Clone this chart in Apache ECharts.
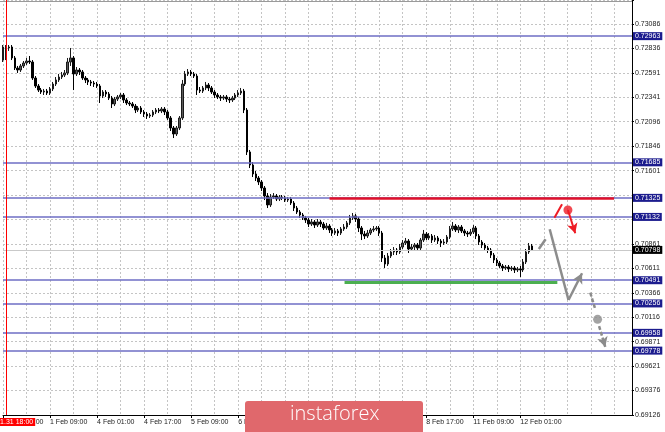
<!DOCTYPE html>
<html><head><meta charset="utf-8">
<script src="https://cdn.jsdelivr.net/npm/echarts@6/dist/echarts.min.js"></script>
<style>html,body{margin:0;padding:0;background:#fff}#c{width:665px;height:432px}</style>
</head><body><div id="c"></div>
<script>
// ---- data (prices in points, 1 point = 0.00001) ----
const POINT = 1e-5;
const openPts = [72721,
72742,72843,72853,72742,72640,72620,72661,72691,72711,72701,
72539,72458,72417,72397,72407,72387,72428,72478,72519,72549,
72569,72590,72701,72742,72580,72620,72600,72539,72519,72499,
72488,72478,72458,72357,72397,72377,72336,72276,72326,72347,
72367,72316,72286,72276,72255,72215,72235,72195,72174,72154,
72164,72195,72215,72205,72225,72195,72134,72033,71972,72033,
72134,72478,72580,72600,72580,72559,72417,72407,72438,72468,
72438,72397,72367,72347,72336,72347,72326,72316,72336,72367,
72387,72407,72215,71790,71658,71567,71526,71486,71425,71344,
71253,71334,71344,71314,71334,71324,71303,71314,71273,71222,
71182,71152,71121,71101,71060,71081,71050,71081,71060,71020,
71040,71000,70969,70990,70969,71010,71030,71071,71121,71142,
71111,71020,70959,70939,70969,71000,71010,71020,70969,70716,
70655,70736,70777,70797,70777,70827,70868,70888,70807,70827,
70848,70817,70898,70959,70919,70939,70898,70919,70888,70868,
70878,70929,71010,71040,71000,71030,70990,70969,70959,70979,
71020,70939,70878,70848,70817,70797,70746,70696,70665,70635,
70615,70625,70605,70615,70595,70605,70595,70676,70777,70838];
const closePts = [72853,
72843,72853,72742,72640,72620,72661,72691,72711,72701,72539,
72458,72417,72397,72407,72387,72428,72478,72519,72549,72569,
72590,72701,72742,72580,72620,72600,72539,72519,72499,72488,
72478,72458,72357,72397,72377,72336,72276,72326,72347,72367,
72316,72286,72276,72255,72215,72235,72195,72174,72154,72164,
72195,72215,72205,72225,72195,72134,72033,71972,72033,72134,
72478,72580,72600,72580,72559,72417,72407,72438,72468,72438,
72397,72367,72347,72336,72347,72326,72316,72336,72367,72387,
72407,72215,71790,71658,71567,71526,71486,71425,71344,71253,
71334,71344,71314,71334,71324,71303,71314,71273,71222,71182,
71152,71121,71101,71060,71081,71050,71081,71060,71020,71040,
71000,70969,70990,70969,71010,71030,71071,71121,71142,71111,
71020,70959,70939,70969,71000,71010,71020,70969,70716,70655,
70736,70777,70797,70777,70827,70868,70888,70807,70827,70848,
70817,70898,70959,70919,70939,70898,70919,70888,70868,70878,
70929,71010,71040,71000,71030,70990,70969,70959,70979,71020,
70939,70878,70848,70817,70797,70746,70696,70665,70635,70615,
70625,70605,70615,70595,70605,70595,70676,70777,70838,70798];
const lowPts = [72701,
72721,72813,72721,72620,72590,72600,72640,72671,72681,72519,
72438,72397,72377,72367,72367,72367,72407,72458,72499,72529,
72549,72569,72661,72417,72559,72569,72519,72488,72468,72458,
72448,72438,72286,72336,72347,72316,72235,72255,72306,72326,
72286,72265,72255,72235,72184,72195,72174,72144,72124,72134,
72144,72174,72184,72184,72164,72114,72002,71931,71952,72012,
72114,72458,72559,72559,72539,72367,72387,72387,72417,72407,
72377,72336,72326,72306,72316,72296,72286,72296,72316,72347,
72367,72184,71759,71627,71536,71496,71455,71395,71303,71222,
71233,71314,71293,71293,71303,71283,71283,71253,71192,71162,
71121,71101,71071,71030,71040,71020,71030,71030,71000,71000,
70969,70939,70949,70939,70949,70990,71010,71050,71101,71081,
70979,70898,70908,70919,70949,70979,70990,70939,70676,70615,
70635,70716,70746,70746,70757,70807,70848,70767,70787,70797,
70797,70797,70878,70898,70898,70868,70878,70858,70827,70848,
70858,70908,70990,70979,70969,70969,70939,70929,70939,70959,
70908,70848,70817,70787,70767,70716,70665,70635,70615,70584,
70595,70574,70584,70564,70574,70524,70574,70655,70757,70797];
const highPts = [72873,
72873,72873,72873,72762,72661,72681,72711,72742,72762,72721,
72559,72478,72438,72428,72428,72448,72499,72549,72580,72600,
72620,72742,72843,72762,72650,72640,72620,72559,72539,72519,
72509,72499,72478,72417,72417,72397,72357,72347,72367,72387,
72387,72336,72306,72296,72276,72255,72255,72215,72195,72184,
72215,72235,72235,72245,72245,72215,72154,72053,72053,72154,
72519,72610,72630,72620,72600,72580,72448,72458,72499,72488,
72458,72417,72387,72367,72367,72367,72347,72357,72387,72417,
72438,72428,72235,71810,71688,71597,71546,71506,71445,71374,
71364,71374,71364,71354,71354,71344,71334,71334,71293,71243,
71202,71172,71142,71121,71111,71101,71111,71101,71081,71071,
71060,71020,71020,71010,71030,71060,71091,71152,71172,71162,
71131,71040,70990,71000,71020,71040,71040,71040,70990,70746,
70767,70807,70827,70817,70858,70898,70919,70908,70858,70868,
70868,70919,71000,70979,70969,70959,70949,70939,70908,70908,
70949,71040,71081,71060,71050,71050,71010,70990,71010,71050,
71040,70959,70898,70868,70838,70817,70767,70716,70686,70655,
70645,70645,70635,70635,70625,70635,70706,70807,70868,70858];

const yTickLabels = ['0.69126','0.69376','0.69621','0.69871','0.70116','0.70366','0.70611','0.70861',
  '0.71106','0.71356','0.71601','0.71846','0.72096','0.72341','0.72591','0.72836','0.73086'];
const PRICE_MIN = 0.69126, PRICE_MAX = 0.73329, TICK_STEP = 0.002475;
const levelPrices = [0.72963, 0.71685, 0.71325, 0.71132, 0.70491, 0.70256, 0.69958, 0.69778];
const currentPrice = 0.70798;
const crosshairLabel = '2019.01.31 18:00';
const SLOTS = 215;            // hourly slots incl. empty future
const crosshairSlot = 1;

// forecast drawing (slot index, price)
const resistance = {from: 111.1, to: 207.9, price: 0.71325};
const support = {from: 116.2, to: 188.6, price: 0.70473};
const redPath = [[187.6, 0.71124], [190.2, 0.71260]];
const redPoint = [192.2, 0.71202];
const redArrow = [[192.2, 0.71202], [194.7, 0.70966]];
const grayPath = [[182.3, 0.70807], [184.6, 0.70906]];
const grayDrop = [[186.0, 0.71007], [192.4, 0.70291]];
const grayBounce = [[192.4, 0.70291], [197.0, 0.70561]];
const grayDash = [[199.8, 0.70365], [201.5, 0.70197]];
const grayPoint = [202.3, 0.70095];
const grayDashArrow = [[202.8, 0.70027], [204.9, 0.69815]];

// ---- build ----
function buildCategories(n) {
  const months = ['Jan','Feb','Mar'];
  const out = [];
  let t = Date.UTC(2019, 0, 31, 17);
  while (out.length < n) {
    const d = new Date(t);
    const dow = d.getUTCDay();
    if (dow !== 6 && dow !== 0) {
      out.push(d.getUTCDate() + ' ' + months[d.getUTCMonth()] + ' ' + String(d.getUTCHours()).padStart(2, '0') + ':00');
    }
    t += 3600e3;
  }
  return out;
}
const categories = buildCategories(SLOTS);
const candleData = openPts.map((o, i) => [o * POINT, closePts[i] * POINT, lowPts[i] * POINT, highPts[i] * POINT]);
const lastIdx = candleData.length - 1;

const FONT = 'Liberation Sans';
const FS = 7;
const seg = (p, style, endSym) => [
  {coord: p[0], symbol: 'none'},
  {coord: p[1], symbol: endSym || 'none', symbolSize: endSym ? [8, 10] : 0, lineStyle: style}
];

const chart = echarts.init(document.getElementById('c'), null, {renderer: 'canvas'});
chart.setOption({
  animation: false,
  backgroundColor: '#ffffff',
  grid: {left: 0, right: 33, top: 0, bottom: 17},
  xAxis: [{
    type: 'category', data: categories, boundaryGap: false,
    axisLine: {lineStyle: {color: '#000', width: 1}},
    axisTick: {show: true, length: 3, lineStyle: {color: '#000'},
      interval: (i) => i % 16 === 0 && i <= lastIdx},
    axisLabel: {interval: (i) => i % 16 === 0 && i <= lastIdx, align: 'left', margin: 4,
      fontFamily: FONT, fontSize: FS, color: '#1a1a1a'},
    splitLine: {show: true, interval: (i) => i % 8 === 0,
      lineStyle: {color: '#c4c4c4', type: [2, 2], width: 1}}
  }, {
    type: 'value', min: 0, max: SLOTS - 1, show: false
  }],
  yAxis: [{
    type: 'value', min: PRICE_MIN, max: PRICE_MAX, show: false, position: 'right', scale: true
  }, {
    type: 'value', position: 'right', min: 0, max: (PRICE_MAX - PRICE_MIN) / TICK_STEP, interval: 1,
    axisLine: {show: true, lineStyle: {color: '#000', width: 1}},
    axisTick: {show: true, length: 2, lineStyle: {color: '#000'}},
    axisLabel: {margin: 3, fontFamily: FONT, fontSize: FS, color: '#1a1a1a',
      formatter: (v) => {
        const k = Math.round(v);
        if (Math.abs(v - k) > 1e-6 || !yTickLabels[k]) return '';
        const p = PRICE_MIN + k * TICK_STEP;
        if (levelPrices.some(l => Math.abs(l - p) < 0.0004)) return '';
        return yTickLabels[k];
      }},
    splitLine: {show: true, lineStyle: {color: '#c4c4c4', type: [2, 2], width: 1}}
  }],
  series: [{
    type: 'candlestick', name: 'AUDUSD H1', xAxisIndex: 0, yAxisIndex: 0,
    data: candleData, barWidth: 2,
    itemStyle: {color: '#5a5a5a', color0: '#000000', borderColor: '#1a1a1a', borderColor0: '#000000', borderWidth: 1},
    markLine: {
      silent: true, symbol: ['none', 'none'], precision: 5,
      label: {show: true, position: 'end', distance: 1, fontFamily: FONT, fontSize: FS,
        color: '#fff', padding: [1, 2, 0, 2]},
      data: levelPrices.map(v => ({
        yAxis: v, lineStyle: {color: '#6e6ec4', width: 1.5, type: 'solid'},
        label: {formatter: v.toFixed(5), backgroundColor: '#1c1c8e'}
      })).concat([{
        yAxis: currentPrice, lineStyle: {color: '#c9c9c9', width: 1, type: 'solid'},
        label: {formatter: currentPrice.toFixed(5), backgroundColor: '#000'}
      }, {
        xAxis: categories[crosshairSlot], lineStyle: {color: '#ff0000', width: 1, type: 'solid'},
        label: {position: 'start', distance: 3, formatter: crosshairLabel, backgroundColor: '#ff0000',
          padding: [1, 2, 0, 2]}
      }])
    },
    z: 3
  }, {
    type: 'scatter', name: 'red plan', xAxisIndex: 1, yAxisIndex: 0,
    data: [redPoint], symbolSize: 9, itemStyle: {color: '#ee1c25'}, z: 6,
    markLine: {
      silent: true, symbol: ['none', 'none'], label: {show: false},
      lineStyle: {color: '#e8112d', width: 2, type: 'solid'},
      data: [
        [{coord: [resistance.from, resistance.price]}, {coord: [resistance.to, resistance.price], lineStyle: {color: '#e0102a', width: 2.5}}],
        seg(redPath, {color: '#ee1c25', width: 2}),
        seg(redArrow, {color: '#ee1c25', width: 2}, 'arrow')
      ]
    }
  }, {
    type: 'scatter', name: 'gray plan', xAxisIndex: 1, yAxisIndex: 0,
    data: [grayPoint], symbolSize: 9, itemStyle: {color: '#8c8c8c'}, z: 6,
    markLine: {
      silent: true, symbol: ['none', 'none'], label: {show: false},
      lineStyle: {color: '#8c8c8c', width: 2.5, type: 'solid'},
      data: [
        [{coord: [support.from, support.price]}, {coord: [support.to, support.price], lineStyle: {color: '#4caf50', width: 3}}],
        seg(grayPath, {color: '#8c8c8c', width: 2.5}),
        seg(grayDrop, {color: '#8c8c8c', width: 2.5}),
        seg(grayBounce, {color: '#8c8c8c', width: 2.5}, 'arrow'),
        seg(grayDash, {color: '#8c8c8c', width: 2.5, type: [4, 2]}),
        seg(grayDashArrow, {color: '#8c8c8c', width: 2.5, type: [4, 2]}, 'arrow')
      ]
    }
  }],
  graphic: [{
    type: 'line', shape: {x1: 0, y1: 1.5, x2: 632, y2: 1.5}, style: {stroke: '#9a9a9a', lineWidth: 1}, z: 1
  }, {
    type: 'rect', left: 245, top: 401, shape: {width: 178, height: 31, r: [3, 3, 0, 0]},
    style: {fill: '#e0686c'}, z: 100
  }, {
    type: 'text', left: 290, top: 404, z: 101,
    style: {text: 'instaforex', fill: '#ffffff', font: '300 20px "Open Sans"'}
  }]
});
</script></body></html>
